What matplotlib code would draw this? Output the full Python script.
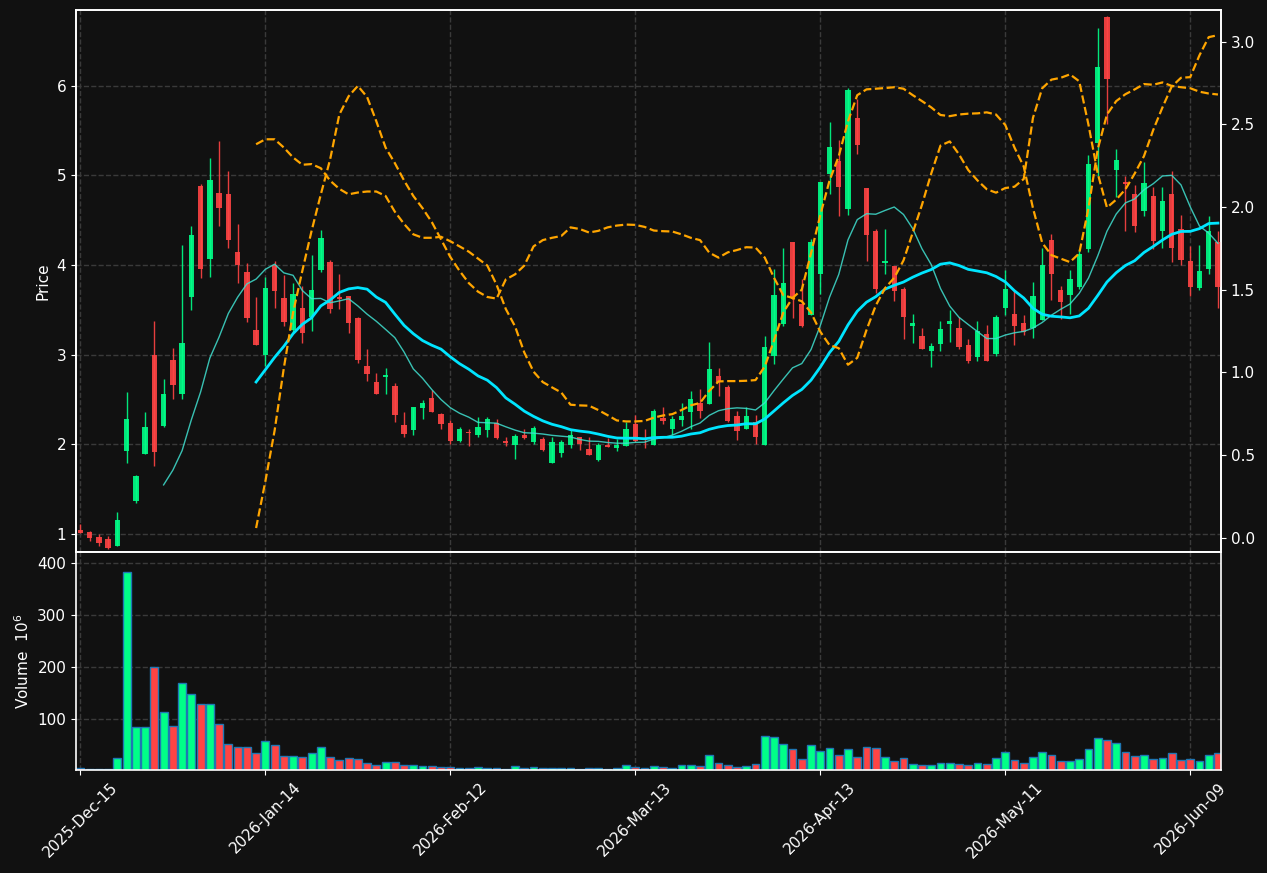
import matplotlib
matplotlib.use('Agg')
import matplotlib.pyplot as plt
import numpy as np
import pandas as pd

# trading days (US calendar)
holidays = ['2025-12-25', '2026-01-01', '2026-01-19', '2026-02-16', '2026-04-03', '2026-05-25']
dates = pd.bdate_range('2025-12-15', '2026-06-12', freq='C', holidays=holidays)

opens = [1.043, 1.023, 0.969, 0.946, 0.872, 1.932, 1.373, 1.889, 3.000, 2.207,
         2.945, 2.557, 3.648, 4.878, 4.067, 4.808, 4.789, 4.141, 3.927, 3.279,
         2.995, 4.001, 3.636, 3.275, 3.516, 3.419, 3.943, 4.040, 3.640, 3.659,
         3.407, 2.879, 2.700, 2.755, 2.654, 2.219, 2.165, 2.409, 2.522, 2.343,
         2.242, 2.040, 2.130, 2.110, 2.157, 2.234, 2.029, 1.990, 2.110, 2.029,
         2.060, 1.788, 1.905, 1.990, 2.079, 1.951, 1.827, 1.994, 1.955, 1.978,
         2.223, 2.075, 1.994, 2.300, 2.168, 2.273, 2.359, 2.467, 2.448, 2.759,
         2.642, 2.320, 2.176, 2.254, 1.994, 2.991, 3.341, 4.253, 3.570, 3.438,
         3.904, 5.018, 5.158, 4.630, 5.639, 4.855, 4.377, 4.020, 3.993, 3.729,
         3.318, 3.213, 3.038, 3.116, 3.341, 3.302, 3.108, 2.972, 3.236, 3.011,
         3.527, 3.457, 3.349, 3.294, 3.387, 4.284, 3.717, 3.671, 3.760, 4.175,
         5.360, 6.765, 5.061, 4.932, 4.797, 4.603, 4.766, 4.377, 4.797, 4.408,
         4.051, 3.741, 3.954, 4.253]
highs = [1.116, 1.030, 1.004, 0.977, 1.245, 2.584, 1.660, 2.359, 3.372, 2.727,
         3.077, 4.226, 4.440, 4.901, 5.196, 5.387, 5.053, 4.459, 4.020, 3.644,
         3.869, 4.051, 3.892, 3.799, 3.768, 4.117, 4.393, 4.059, 3.897, 3.659,
         3.419, 3.069, 2.797, 2.852, 2.681, 2.359, 2.421, 2.498, 2.603, 2.351,
         2.273, 2.196, 2.176, 2.304, 2.304, 2.285, 2.079, 2.118, 2.169, 2.207,
         2.079, 2.087, 2.048, 2.157, 2.079, 2.079, 2.021, 2.075, 2.060, 2.254,
         2.332, 2.176, 2.390, 2.421, 2.312, 2.460, 2.599, 2.623, 3.147, 2.856,
         2.662, 2.370, 2.417, 2.332, 3.205, 3.962, 4.195, 4.261, 3.846, 4.292,
         4.932, 5.592, 5.398, 5.981, 5.852, 4.855, 4.408, 4.408, 3.993, 3.760,
         3.450, 3.302, 3.127, 3.380, 3.496, 3.419, 3.174, 3.380, 3.329, 3.438,
         3.950, 3.710, 3.438, 3.807, 4.195, 4.350, 3.768, 3.943, 4.175, 5.224,
         6.641, 6.784, 5.290, 4.991, 4.894, 5.146, 4.874, 4.874, 5.049, 4.564,
         4.214, 4.222, 4.544, 4.381]
lows = [1.010, 0.922, 0.864, 0.837, 0.872, 1.788, 1.350, 1.889, 1.761, 2.192,
        2.506, 2.506, 3.500, 3.857, 3.869, 4.440, 4.187, 3.799, 3.360, 3.104,
        2.875, 3.523, 3.321, 3.244, 3.127, 3.263, 3.923, 3.465, 3.506, 3.244,
        2.906, 2.708, 2.564, 2.557, 2.246, 2.079, 2.110, 2.289, 2.363, 2.169,
        2.002, 2.029, 1.982, 2.079, 2.079, 2.056, 1.978, 1.835, 2.060, 2.009,
        1.932, 1.788, 1.858, 1.955, 1.943, 1.885, 1.819, 1.967, 1.924, 1.978,
        2.029, 1.955, 1.994, 2.223, 2.110, 2.207, 2.176, 2.293, 2.448, 2.545,
        2.254, 2.052, 2.176, 2.009, 1.994, 2.902, 3.321, 3.407, 3.314, 3.438,
        3.679, 4.797, 4.544, 4.564, 5.243, 4.051, 3.690, 3.904, 3.601, 3.178,
        3.127, 3.061, 2.867, 3.038, 3.147, 3.061, 2.906, 2.933, 2.933, 2.984,
        3.438, 3.108, 3.224, 3.186, 3.387, 3.613, 3.399, 3.450, 3.729, 4.148,
        4.991, 5.573, 4.758, 4.381, 4.370, 4.544, 4.175, 4.187, 4.032, 4.001,
        3.651, 3.718, 3.904, 3.527]
closes = [1.016, 0.953, 0.895, 0.849, 1.159, 2.285, 1.648, 2.196, 1.920, 2.564,
          2.658, 3.135, 4.331, 3.954, 4.944, 4.634, 4.276, 3.997, 3.407, 3.104,
          3.748, 3.710, 3.360, 3.682, 3.244, 3.725, 4.307, 3.508, 3.620, 3.349,
          2.945, 2.790, 2.564, 2.778, 2.324, 2.118, 2.421, 2.464, 2.363, 2.231,
          2.040, 2.176, 2.122, 2.196, 2.285, 2.068, 2.021, 2.095, 2.068, 2.184,
          1.943, 2.029, 2.029, 2.110, 2.005, 1.885, 1.994, 1.967, 1.990, 2.176,
          2.040, 2.052, 2.378, 2.266, 2.289, 2.312, 2.506, 2.378, 2.844, 2.693,
          2.266, 2.145, 2.320, 2.087, 3.088, 3.671, 3.795, 3.632, 3.321, 4.253,
          4.932, 5.313, 4.866, 5.949, 5.340, 4.331, 3.737, 4.051, 3.710, 3.418,
          3.349, 3.069, 3.100, 3.283, 3.380, 3.081, 2.933, 3.263, 2.933, 3.419,
          3.737, 3.321, 3.255, 3.659, 4.001, 3.896, 3.593, 3.845, 4.125, 5.123,
          6.206, 6.078, 5.173, 4.905, 4.436, 4.913, 4.273, 4.711, 4.195, 4.059,
          3.760, 3.935, 4.385, 3.760]
volumes = [5.0, 3.0, 3.0, 3.0, 24.5, 382.6, 84.5, 84.5, 200.6, 113.5,
           86.5, 169.7, 148.4, 129.0, 129.0, 90.3, 51.6, 45.8, 45.8, 34.2,
           57.4, 49.7, 28.4, 28.4, 26.5, 34.2, 45.8, 26.5, 20.6, 24.5,
           22.6, 14.8, 11.0, 16.8, 16.8, 11.0, 11.0, 9.0, 9.0, 7.0,
           7.0, 4.5, 4.5, 7.0, 4.5, 4.5, 2.6, 9.0, 4.5, 7.0,
           4.5, 4.5, 4.5, 4.5, 2.6, 4.5, 4.5, 2.6, 4.5, 11.0,
           7.0, 4.5, 9.0, 7.0, 4.5, 11.0, 11.0, 9.0, 30.3, 14.8,
           11.0, 7.0, 9.0, 12.9, 67.0, 65.0, 51.6, 42.0, 22.6, 49.7,
           38.0, 43.9, 30.3, 42.0, 26.5, 45.8, 43.9, 26.5, 18.7, 24.5,
           12.9, 11.0, 11.0, 14.8, 14.8, 12.9, 11.0, 14.8, 12.9, 24.5,
           36.1, 20.6, 14.8, 26.5, 36.1, 30.3, 18.7, 18.7, 22.6, 42.0,
           63.2, 59.4, 53.5, 36.1, 28.4, 30.3, 22.6, 24.5, 34.2, 20.6,
           22.6, 18.7, 30.3, 34.2]

nan = np.nan
ind_a = [nan] * 19 + [
    2.38, 2.41, 2.41, 2.36, 2.30, 2.256, 2.26, 2.235, 2.16, 2.11,
    2.077, 2.088, 2.094, 2.094, 2.067, 1.972, 1.898, 1.835, 1.814, 1.814,
    1.82, 1.793, 1.762, 1.73, 1.688, 1.646, 1.53, 1.383, 1.278, 1.12,
    1.004, 0.941, 0.909, 0.878, 0.804, 0.80, 0.798, 0.772, 0.741, 0.709,
    0.703, 0.703, 0.706, 0.726, 0.739, 0.747, 0.772, 0.80, 0.815, 0.888,
    0.945, 0.947, 0.947, 0.949, 0.953, 1.035, 1.193, 1.362, 1.45, 1.50,
    1.72, 1.951, 2.16, 2.308, 2.519, 2.677, 2.712, 2.716, 2.72, 2.725,
    2.716, 2.677, 2.641, 2.603, 2.557, 2.55, 2.56, 2.565, 2.567, 2.573,
    2.56, 2.497, 2.36, 2.245, 1.993, 1.783, 1.709, 1.688, 1.667, 1.72,
    1.993, 2.35, 2.56, 2.641, 2.683, 2.712, 2.744, 2.74, 2.754, 2.733,
    2.725, 2.719, 2.698, 2.687, 2.681]
ind_b = [nan] * 19 + [
    0.058, 0.34, 0.647, 1.026, 1.362, 1.614, 1.856, 2.077, 2.287, 2.56,
    2.67, 2.733, 2.666, 2.519, 2.36, 2.266, 2.161, 2.067, 1.993, 1.909,
    1.804, 1.698, 1.614, 1.54, 1.488, 1.456, 1.446, 1.562, 1.593, 1.646,
    1.762, 1.80, 1.814, 1.825, 1.877, 1.867, 1.846, 1.856, 1.877, 1.888,
    1.894, 1.892, 1.88, 1.858, 1.854, 1.852, 1.835, 1.814, 1.80, 1.724,
    1.694, 1.726, 1.74, 1.757, 1.755, 1.694, 1.572, 1.467, 1.45, 1.43,
    1.362, 1.246, 1.165, 1.146, 1.046, 1.088, 1.256, 1.404, 1.509, 1.572,
    1.677, 1.845, 2.014, 2.203, 2.372, 2.397, 2.319, 2.224, 2.161, 2.108,
    2.087, 2.115, 2.123, 2.17, 2.54, 2.719, 2.771, 2.782, 2.803, 2.761,
    2.498, 2.203, 1.997, 2.045, 2.108, 2.203, 2.308, 2.466, 2.603, 2.729,
    2.782, 2.786, 2.918, 3.028, 3.04]

bg = '#111111'
up_col = '#00ff88'
down_col = '#ff4444'
grid_col = '#3a3a3a'

x = np.arange(len(closes))
o = np.array(opens)
c = np.array(closes)
h = np.array(highs)
l = np.array(lows)
is_up = c >= o
colors = np.where(is_up, up_col, down_col)

ma10 = pd.Series(closes).rolling(10).mean()
ma20 = pd.Series(closes).rolling(20).mean()

fig = plt.figure(figsize=(12.67, 8.73), dpi=100, facecolor=bg)
ax = fig.add_axes([0.06, 0.3677, 0.9037, 0.6208])
axv = fig.add_axes([0.06, 0.118, 0.9037, 0.2497], sharex=ax)

for a in (ax, axv):
    a.set_facecolor(bg)
    for s in a.spines.values():
        s.set_color('white')
        s.set_linewidth(1.2)
    a.tick_params(colors='white', labelsize=11)
    a.grid(True, color=grid_col, linestyle='--', linewidth=1)
    a.set_axisbelow(True)

# candles
ax.vlines(x, l, h, colors=colors, linewidth=1, alpha=0.9, zorder=2)
body_bot = np.minimum(o, c)
body_h = np.maximum(np.abs(c - o), 0.012)
ax.bar(x, body_h, bottom=body_bot, width=0.58, color=colors, alpha=0.9,
       linewidth=0, zorder=3)
ax.plot(x, ma10, color='#40e0d0', linewidth=1, alpha=0.85, zorder=4)
ax.plot(x, ma20, color='#00e5ff', linewidth=2, zorder=4)
ax.set_ylim(0.80, 6.845)
ax.set_ylabel('Price', color='white', fontsize=11)
ax.tick_params(axis='x', labelbottom=False, length=0)

ax2 = ax.twinx()
ax2.plot(x, ind_a, color='orange', linestyle='--', linewidth=1.6)
ax2.plot(x, ind_b, color='orange', linestyle='--', linewidth=1.6)
ax2.set_ylim(-0.087, 3.192)
ax2.set_yticks([0.0, 0.5, 1.0, 1.5, 2.0, 2.5, 3.0])
ax2.tick_params(colors='white', labelsize=11)
for s in ax2.spines.values():
    s.set_color('white')
    s.set_linewidth(1.2)

# volume
axv.bar(x, volumes, width=0.85, color=colors, edgecolor='#1f77b4', linewidth=1)
axv.set_ylim(1.5, 421)
axv.set_yticks([100, 200, 300, 400])
axv.set_ylabel('Volume  $10^{6}$', color='white', fontsize=11)

tick_pos = x[::20]
axv.set_xticks(tick_pos)
axv.set_xticklabels(dates[::20].strftime('%Y-%b-%d'), rotation=45, ha='center')
axv.set_xlim(-0.47, 123.33)

fig.savefig('out.png', dpi=100, facecolor=bg)
